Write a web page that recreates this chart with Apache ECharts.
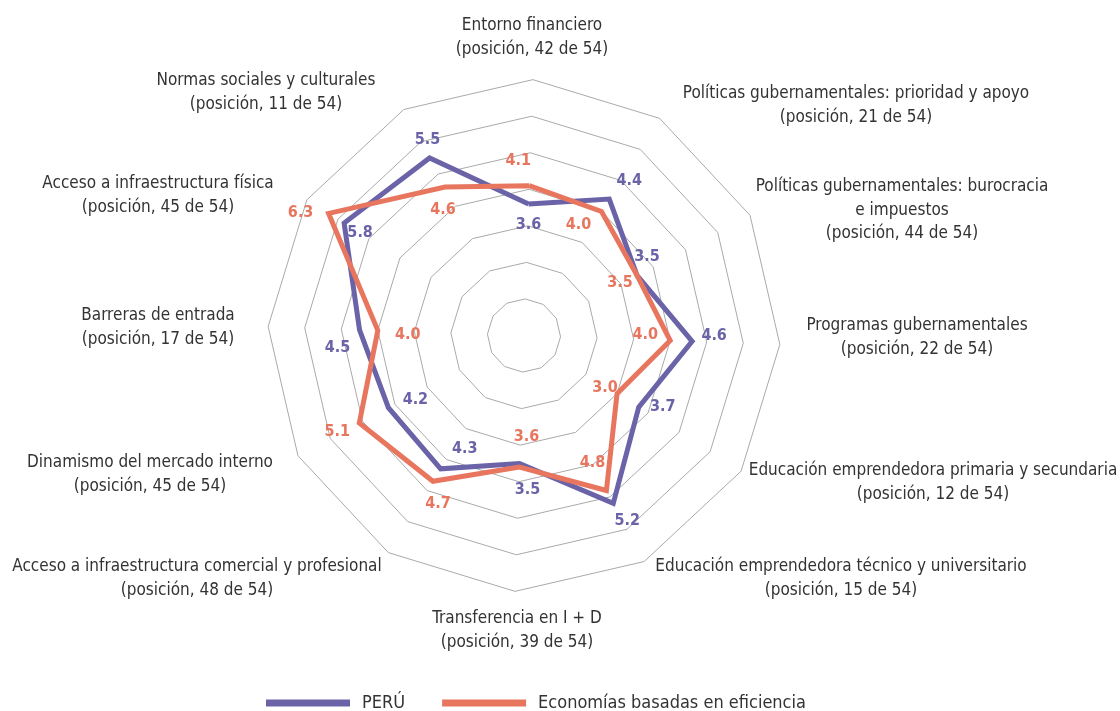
<!DOCTYPE html>
<html>
<head>
<meta charset="utf-8">
<title>Perú - radar</title>
<script src="https://cdn.jsdelivr.net/npm/echarts@6/dist/echarts.min.js"></script>
<style>
  html, body { margin: 0; padding: 0; background: #fff; }
  #radarPeru { width: 1120px; height: 711px; }
</style>
</head>
<body>
<div id="radarPeru"></div>
<script>
// indicadores en orden horario, empezando arriba
var names = [
  "Entorno financiero",
  "Políticas gubernamentales: prioridad y apoyo",
  "Políticas gubernamentales: burocracia\ne impuestos",
  "Programas gubernamentales",
  "Educación emprendedora primaria y secundaria",
  "Educación emprendedora técnico y universitario",
  "Transferencia en I + D",
  "Acceso a infraestructura comercial y profesional",
  "Dinamismo del mercado interno",
  "Barreras de entrada",
  "Acceso a infraestructura física",
  "Normas sociales y culturales"
];
var ranks = [42, 21, 44, 22, 12, 15, 39, 48, 45, 17, 45, 11];
var peru = [3.6, 4.4, 3.5, 4.6, 3.7, 5.2, 3.5, 4.3, 4.2, 4.5, 5.8, 5.5];
var eficiencia = [4.1, 4.0, 3.5, 4.0, 3.0, 4.8, 3.6, 4.7, 5.1, 4.0, 6.3, 4.6];
var seriesNames = ["PERÚ", "Economías basadas en eficiencia"];
var scaleMax = 7;

// layout (px): posicion de los nombres y desplazamiento de las etiquetas
var namePos = [
  [532, 14], [856, 82], [902, 175], [917, 314], [933, 459], [841, 555],
  [517, 607], [197, 555], [150, 451], [158, 304], [158, 172], [266, 69]
];
var offPeru = [
  [0, 21], [20, -18], [10, -19], [22, -6], [24, 0], [14, 17],
  [8, 26], [24, -20], [27, -8], [-22, 18], [16, 10], [-2, -18]
];
var offEfi = [
  [-11, -25], [-23, 13], [-17, 7], [-25, -6], [-12, -6], [-14, -28],
  [7, -30], [5, 23], [-22, 9], [30, 4], [-28, -1], [-2, 23]
];

var purple = "#6A63A8";
var orange = "#E8765E";
var font = "'Liberation Sans Narrow', 'DejaVu Sans Condensed', Roboto, sans-serif";
var center = [524, 335.5];
var radius = 256;
var startAngle = 88;

// el radar de echarts va antihorario: reordenar
var ccw = names.map(function (_, i) { return (names.length - i) % names.length; });

function labelSeries(vals, offs, color) {
  return {
    type: "scatter",
    coordinateSystem: "polar",
    silent: true,
    symbolSize: 1,
    itemStyle: { color: "rgba(0,0,0,0)", opacity: 1 },
    data: vals.map(function (v, i) {
      return { value: [v, i], label: { offset: offs[i] } };
    }),
    label: {
      show: true,
      position: "inside",
      formatter: function (p) { return p.value[0].toFixed(1); },
      color: color,
      opacity: 1,
      fontSize: 16,
      fontWeight: "bold",
      fontFamily: font
    },
    z: 5
  };
}

var chart = echarts.init(document.getElementById("radarPeru"));
var option = {
  animation: false,
  radar: {
    center: center,
    radius: radius,
    startAngle: startAngle,
    splitNumber: scaleMax,
    shape: "polygon",
    indicator: ccw.map(function (i) { return { name: names[i], min: 0, max: scaleMax }; }),
    axisName: { show: false },
    axisLine: { show: false },
    axisTick: { show: false },
    axisLabel: { show: false },
    splitArea: { show: false },
    splitLine: { lineStyle: { color: "#a9a9a9", width: 1 } }
  },
  polar: { center: center, radius: radius },
  angleAxis: {
    type: "value", min: 0, max: names.length,
    startAngle: startAngle, clockwise: true, show: false
  },
  radiusAxis: { type: "value", min: 0, max: scaleMax, show: false },
  legend: {
    data: seriesNames,
    icon: "rect",
    itemWidth: 84,
    itemHeight: 7,
    itemGap: 37,
    left: 261,
    top: 689,
    textStyle: { color: "#333", fontSize: 18, fontFamily: font, padding: [0, 0, 0, 7] }
  },
  graphic: names.map(function (n, i) {
    return {
      type: "text",
      x: namePos[i][0],
      y: namePos[i][1],
      silent: true,
      style: {
        text: n + "\n(posición, " + ranks[i] + " de 54)",
        align: "center",
        verticalAlign: "top",
        fill: "#333",
        fontSize: 17,
        lineHeight: 23.5,
        fontFamily: font
      }
    };
  }),
  series: [
    {
      type: "radar",
      symbol: "none",
      data: [
        {
          name: seriesNames[0],
          value: ccw.map(function (i) { return peru[i]; }),
          itemStyle: { color: purple },
          lineStyle: { color: purple, width: 5, join: "miter" }
        },
        {
          name: seriesNames[1],
          value: ccw.map(function (i) { return eficiencia[i]; }),
          itemStyle: { color: orange },
          lineStyle: { color: orange, width: 5, join: "miter" }
        }
      ]
    },
    labelSeries(peru, offPeru, purple),
    labelSeries(eficiencia, offEfi, orange)
  ]
};
chart.setOption(option);
</script>
</body>
</html>
